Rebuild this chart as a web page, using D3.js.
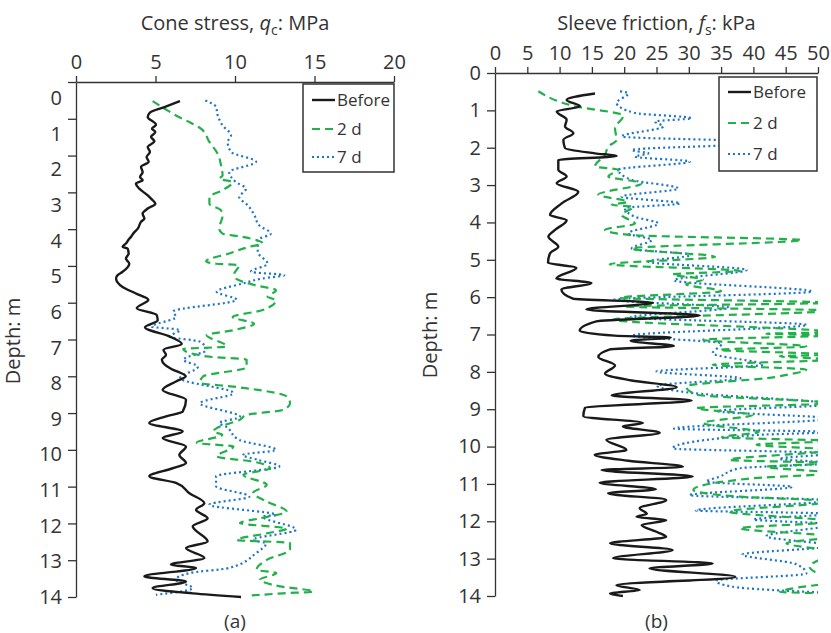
<!DOCTYPE html>
<html>
<head>
<meta charset="utf-8">
<script src="https://cdn.jsdelivr.net/npm/d3@7"></script>
<style>
  body { margin: 0; background: #fff; }
  svg { display: block; }
  text { font-family: 'Open Sans', sans-serif; fill: #333; }
</style>
</head>
<body>
<div id="chart"></div>
<script>
// ===== data: [depth m, value] =====
const seriesNames = ['Before', '2 d', '7 d'];
const ticksA = [0, 5, 10, 15, 20];
const ticksB = [0, 5, 10, 15, 20, 25, 30, 35, 40, 45, 50];
const depthTicks = d3.range(0, 15);

// (a) cone stress, MPa
const beforeA = [[0.52,6.54],[0.68,5.56],[0.83,4.65],[0.95,4.51],[1.16,5.03],[1.27,4.78],[1.36,4.99],[1.49,4.72],[1.61,4.93],[1.77,4.51],[1.9,4.65],[2.04,4.44],[2.17,4.57],[2.31,4.09],[2.45,4.19],[2.58,4.03],[2.67,4.19],[2.76,3.77],[2.9,3.98],[3.08,4.51],[3.17,4.72],[3.31,4.99],[3.44,4.51],[3.58,4.19],[3.71,4.3],[3.8,4.09],[3.99,3.88],[4.08,3.67],[4.21,3.46],[4.26,3.35],[4.39,3.14],[4.48,2.93],[4.53,3.25],[4.66,3.31],[4.8,3.14],[4.94,3.35],[5.16,2.93],[5.25,2.62],[5.34,2.52],[5.57,2.93],[5.75,3.77],[5.92,4.55],[6.15,3.82],[6.33,5.07],[6.48,5.14],[6.67,4.34],[6.92,5.9],[7.12,6.65],[7.28,5.5],[7.42,5.66],[7.55,5.4],[7.69,5.6],[7.8,6.0],[8.0,6.9],[8.14,6.29],[8.37,5.45],[8.64,6.92],[8.96,6.71],[9.09,5.66],[9.27,4.61],[9.5,6.71],[9.68,5.45],[9.91,6.92],[10.14,6.5],[10.36,6.92],[10.5,6.08],[10.72,4.61],[10.9,6.29],[11.18,7.13],[11.45,8.07],[11.63,7.55],[11.86,8.28],[12.08,7.34],[12.49,8.28],[12.67,6.92],[12.94,8.07],[13.12,5.97],[13.21,7.55],[13.44,4.3],[13.58,6.92],[13.76,4.82],[13.9,7.34],[14.0,10.38]];
const twoDayA = [[0.52,4.82],[0.72,5.56],[0.91,6.29],[1.09,7.13],[1.27,7.86],[1.63,8.39],[1.95,8.91],[2.26,9.12],[2.54,9.22],[2.63,9.01],[2.72,9.85],[2.94,9.22],[3.13,8.39],[3.31,8.39],[3.49,9.12],[3.62,9.22],[3.99,9.01],[4.12,9.22],[4.21,10.48],[4.39,11.74],[4.48,10.9],[4.66,9.64],[4.87,8.18],[4.94,8.81],[4.98,10.27],[5.21,9.96],[5.34,10.06],[5.53,11.32],[5.66,12.58],[5.84,12.05],[5.93,12.58],[6.2,11.74],[6.39,9.85],[6.57,11.2],[6.75,9.85],[6.88,8.22],[7.19,9.48],[7.26,6.74],[7.46,8.22],[7.55,10.73],[7.76,10.73],[8.0,8.0],[8.18,7.8],[8.28,9.88],[8.55,13.25],[8.73,13.46],[8.91,13.04],[9.05,10.73],[9.18,10.31],[9.41,8.85],[9.5,8.63],[9.59,9.2],[9.81,7.59],[9.91,9.9],[10.18,8.85],[10.32,11.14],[10.5,12.2],[10.68,10.52],[10.95,12.0],[11.17,11.14],[11.4,11.98],[11.68,13.25],[11.86,11.57],[11.99,10.31],[12.14,13.25],[12.27,12.0],[12.45,10.1],[12.53,13.46],[12.71,13.46],[12.99,12.0],[13.26,11.36],[13.35,12.6],[13.53,11.57],[13.71,12.83],[13.85,14.93],[13.9,13.04],[13.96,10.94]];
const sevenDayA = [[0.5,8.13],[0.68,8.81],[0.91,8.91],[1.18,9.22],[1.45,9.75],[1.63,9.54],[1.9,9.75],[2.17,11.32],[2.45,9.64],[2.72,10.06],[2.9,10.69],[3.13,10.27],[3.35,10.8],[3.62,11.22],[3.9,11.53],[4.12,12.26],[4.3,11.43],[4.62,11.43],[4.94,12.05],[5.16,11.0],[5.25,13.1],[5.34,11.74],[5.48,10.48],[5.7,8.85],[5.92,10.1],[6.24,6.12],[6.39,6.29],[6.65,4.76],[6.74,6.54],[6.92,5.9],[7.06,7.8],[7.28,8.22],[7.55,6.75],[7.74,7.67],[8.05,6.54],[8.46,9.9],[8.73,7.8],[9.1,10.31],[9.27,9.01],[9.37,9.43],[9.73,10.27],[10.0,12.58],[10.14,10.48],[10.27,11.43],[10.45,12.79],[10.72,8.81],[10.99,8.81],[11.27,10.9],[11.49,8.39],[11.77,12.58],[11.81,11.74],[12.17,13.84],[12.45,11.11],[12.54,11.95],[12.81,11.32],[13.21,9.64],[13.35,7.13],[13.53,6.29],[13.76,7.34],[13.94,5.03]];

// (b) sleeve friction, kPa (values past 50 run off the frame)
const beforeB = [[0.55,15.48],[0.72,11.09],[0.89,13.16],[1.03,9.55],[1.25,11.09],[1.43,10.84],[1.61,12.13],[1.79,10.58],[2.01,10.84],[2.15,15.48],[2.22,18.83],[2.33,9.8],[2.59,9.8],[2.77,11.09],[2.95,9.55],[3.18,12.9],[3.49,10.32],[3.8,8.51],[3.94,11.09],[4.2,9.29],[4.38,8.26],[4.65,9.8],[4.83,8.51],[5.08,8.2],[5.21,12.6],[5.5,9.5],[5.62,14.92],[5.8,10.28],[6.04,12.07],[6.15,24.46],[6.33,14.15],[6.49,31.69],[6.65,15.7],[6.9,13.11],[7.03,18.5],[7.08,27.2],[7.17,21.0],[7.31,27.7],[7.4,17.8],[7.6,16.0],[7.83,18.58],[8.05,17.03],[8.23,21.16],[8.41,28.12],[8.63,18.06],[8.77,30.44],[8.96,13.93],[9.19,13.67],[9.37,22.9],[9.46,19.8],[9.63,25.5],[9.82,17.24],[10.09,20.34],[10.22,15.43],[10.38,20.64],[10.54,29.1],[10.63,16.5],[10.8,30.6],[10.97,16.2],[11.14,24.9],[11.25,17.5],[11.43,26.5],[11.65,22.4],[11.8,23.5],[11.88,21.9],[11.97,26.5],[12.1,22.7],[12.28,25.0],[12.42,26.5],[12.59,17.8],[12.77,27.5],[12.99,18.3],[13.13,33.7],[13.26,23.9],[13.49,37.2],[13.71,18.8],[13.84,22.4],[13.93,17.8],[14.0,19.8]];
const twoDayB = [[0.49,6.71],[0.89,12.38],[1.14,19.87],[1.48,18.58],[1.79,18.83],[1.97,17.54],[2.19,17.03],[2.5,15.48],[2.59,19.09],[2.77,17.54],[2.95,22.7],[3.26,16.0],[3.45,20.5],[3.53,18.06],[3.58,21.41],[3.8,19.6],[4.03,21.67],[4.2,17.03],[4.34,21.16],[4.47,47.47],[4.7,21.16],[4.92,34.06],[5.12,17.76],[5.3,37.9],[5.39,27.5],[5.53,32.2],[5.66,29.6],[5.84,35.0],[6.02,19.3],[6.15,52],[6.25,20.3],[6.36,52],[6.6,18.3],[6.94,52],[6.98,42],[7.02,52],[7.14,32.2],[7.32,48.2],[7.41,34.8],[7.54,52],[7.58,44.1],[7.67,52],[7.81,33.7],[7.94,48.2],[8.08,45.1],[8.14,43.3],[8.39,29.6],[8.61,31.2],[8.84,52],[8.97,31.2],[9.15,39.9],[9.37,32.2],[9.61,40.8],[9.75,35.1],[9.85,52],[9.95,40.5],[10.09,52],[10.36,36.3],[10.44,52],[10.54,42.0],[10.71,52],[10.85,39.9],[11.16,30.7],[11.34,37.9],[11.47,52],[11.74,36.3],[12.01,52],[12.19,37.9],[12.41,52],[12.59,45.1],[12.82,52],[13.22,48.7],[13.64,52],[13.77,47],[13.89,44.1],[13.93,52]];
const sevenDayB = [[0.49,19.35],[0.54,20.64],[0.8,18.83],[1.07,21.67],[1.21,30.44],[1.3,24.77],[1.43,26.06],[1.7,19.6],[1.86,44],[2.06,21.16],[2.15,23.74],[2.24,21.67],[2.37,30.19],[2.59,19.09],[2.86,21.16],[3.09,28.38],[3.31,19.6],[3.49,28.64],[3.62,20.12],[3.85,21.67],[4.03,25.28],[4.29,20.64],[4.47,24.25],[4.7,21.16],[4.87,30.44],[5.05,23.74],[5.27,39.0],[5.55,27.7],[5.85,49.1],[6.07,18.4],[6.28,36.2],[6.54,21.0],[6.74,48.3],[7.03,21.2],[7.24,35.1],[7.5,33.7],[7.81,41.5],[7.99,25.0],[8.17,38.0],[8.37,25.1],[8.55,29.8],[8.87,52],[9.05,34.4],[9.25,52],[9.52,27.7],[9.61,52],[9.69,40.5],[10.05,27.5],[10.18,52],[10.33,44],[10.44,52],[10.58,37.9],[10.81,34.7],[10.94,32.7],[11.08,46.0],[11.3,30.1],[11.44,52],[11.71,31.1],[11.8,52],[11.95,40],[12.08,52],[12.4,42],[12.66,52],[12.89,38.3],[13.14,46.5],[13.4,48.2],[13.59,34.2],[13.75,36.7],[13.92,52]];

const colors = ['#1a1a1a', '#22b04b', '#1c75c8'];
const dashes = [null, '8,5', '2,3'];
const widths = [2.4, 2.2, 2.2];

const svg = d3.select('#chart').append('svg')
  .attr('width', 831)
  .attr('height', 633);

// panels
const panels = [
  {
    id: 'a', data: [beforeA, twoDayA, sevenDayA], ticks: ticksA,
    x: d3.scaleLinear().domain([0, 20]).range([76, 394]),
    y: d3.scaleLinear().domain([0, 14]).range([82, 597]),
    labelY: d3.scaleLinear().domain([0, 14]).range([98, 597]),
    title: ['Cone stress, ', 'q', 'c', ': MPa'], titleY: 30,
    depthX: 20, depthY: 341, legend: {x: 303, y: 84, w: 91, h: 88, rows: [100, 129, 157]}
  },
  {
    id: 'b', data: [beforeB, twoDayB, sevenDayB], ticks: ticksB,
    x: d3.scaleLinear().domain([0, 50]).range([495, 818]),
    y: d3.scaleLinear().domain([0, 14]).range([73, 596]),
    labelY: null,
    title: ['Sleeve friction, ', 'f', 's', ': kPa'], titleY: 30,
    depthX: 437, depthY: 335, legend: {x: 719, y: 77, w: 98, h: 94, rows: [92, 123, 154]}
  }
];

panels.forEach(p => {
  const g = svg.append('g');
  const [x0, x1] = p.x.range();
  const [y0, y1] = p.y.range();

  g.append('clipPath').attr('id', 'clip-' + p.id)
    .append('rect')
    .attr('x', x0).attr('y', y0 - 2)
    .attr('width', x1 - x0).attr('height', y1 - y0 + 4);

  // top axis
  const top = g.append('g')
    .attr('transform', `translate(0,${y0})`)
    .call(d3.axisTop(p.x).tickValues(p.ticks).tickSize(6).tickSizeOuter(0).tickPadding(7));
  top.selectAll('text').attr('font-size', 20).attr('fill', '#333');

  // left axis
  const left = g.append('g')
    .attr('transform', `translate(${x0},0)`)
    .call(d3.axisLeft(p.y).tickValues(depthTicks).tickSize(8).tickSizeOuter(0).tickPadding(6));
  left.selectAll('text').attr('font-size', 20).attr('fill', '#333');
  if (p.labelY) {
    left.selectAll('.tick text').remove();
    g.append('g').selectAll('text')
      .data(depthTicks)
      .enter().append('text')
      .attr('x', x0 - 14)
      .attr('y', d => p.labelY(d))
      .attr('dy', '0.35em')
      .attr('text-anchor', 'end')
      .attr('font-size', 20)
      .text(d => d);
  }
  g.selectAll('.domain, .tick line').attr('stroke', '#333').attr('stroke-width', 1.3);

  // titel
  const t = g.append('text')
    .attr('x', (x0 + x1) / 2)
    .attr('y', p.titleY)
    .attr('text-anchor', 'middle')
    .attr('font-size', 20);
  t.append('tspan').text(p.title[0]);
  t.append('tspan').attr('font-style', 'italic').text(p.title[1]);
  t.append('tspan').attr('font-size', 14).attr('dy', 5).text(p.title[2]);
  t.append('tspan').attr('dy', -5).text(p.title[3]);

  g.append('text')
    .attr('transform', `translate(${p.depthX},${p.depthY}) rotate(-90)`)
    .attr('text-anchor', 'middle')
    .attr('font-size', 20)
    .text('Depth: m');

  g.append('text')
    .attr('x', (x0 + x1) / 2)
    .attr('y', 628)
    .attr('text-anchor', 'middle')
    .attr('font-size', 19)
    .text(`(${p.id})`);

  // Linien
  const line = d3.line()
    .x(d => p.x(d[1]))
    .y(d => p.y(d[0]))
    .curve(d3.curveMonotoneY);

  const lines = g.append('g').attr('clip-path', `url(#clip-${p.id})`);
  [2, 1, 0].forEach(i => {
    lines.append('path')
      .datum(p.data[i])
      .attr('d', line)
      .attr('fill', 'none')
      .attr('stroke', colors[i])
      .attr('stroke-width', widths[i])
      .attr('stroke-dasharray', dashes[i]);
  });

  // Legende
  const L = p.legend;
  const lg = g.append('g');
  lg.append('rect')
    .attr('x', L.x).attr('y', L.y)
    .attr('width', L.w).attr('height', L.h)
    .attr('fill', '#fff')
    .attr('stroke', '#333')
    .attr('stroke-width', 1.5);
  seriesNames.forEach((name, i) => {
    lg.append('line')
      .attr('x1', L.x + 9).attr('x2', L.x + 32)
      .attr('y1', L.rows[i]).attr('y2', L.rows[i])
      .attr('stroke', colors[i])
      .attr('stroke-width', widths[i])
      .attr('stroke-dasharray', dashes[i]);
    lg.append('text')
      .attr('x', L.x + 34)
      .attr('y', L.rows[i])
      .attr('dy', '0.35em')
      .attr('font-size', 17)
      .text(name);
  });
});
</script>
</body>
</html>
